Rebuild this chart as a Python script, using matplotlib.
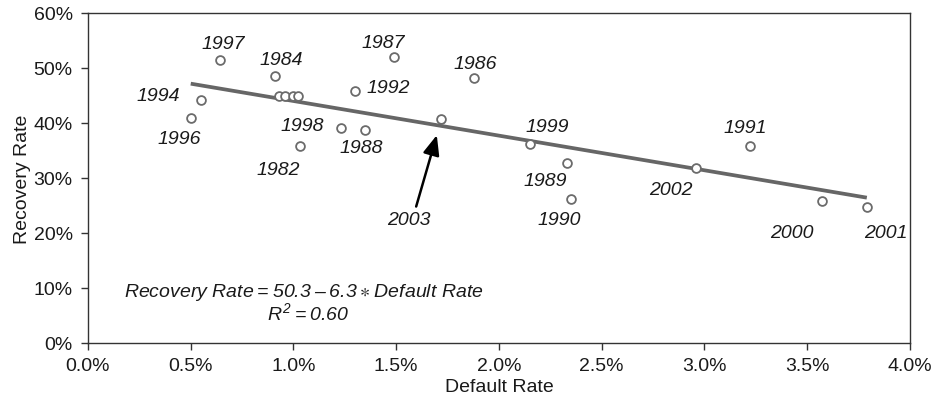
import matplotlib
matplotlib.use("Agg")
import matplotlib.pyplot as plt
import numpy as np
from matplotlib.ticker import PercentFormatter, MultipleLocator

# default rate (%) and recovery rate (%) by year
years = ['1982', '1983', '1984', '1985', '1986', '1987', '1988', '1989', '1990', '1991', '1992',
         '1993', '1994', '1995', '1996', '1997', '1998', '1999', '2000', '2001', '2002', '2003']
default_rate = [1.03, 0.93, 0.91, 0.96, 1.88, 1.49, 1.35, 2.33, 2.35, 3.22, 1.30,
                1.00, 0.55, 1.02, 0.50, 0.64, 1.23, 2.15, 3.57, 3.79, 2.96, 1.72]
recovery_rate = [35.8, 44.9, 48.6, 44.9, 48.1, 52.0, 38.8, 32.7, 26.2, 35.8, 45.8,
                 44.9, 44.2, 44.9, 40.9, 51.5, 39.1, 36.2, 25.9, 24.7, 31.9, 40.7]

# regression reported on the chart
intercept = 50.3
slope = -6.3
r_squared = 0.60

# label offsets in pixels (dx, dy) from each point; years not listed stay unlabelled
label_offsets = {
    '1982': (-21, -23), '1984': (6, 16), '1986': (1, 15), '1987': (-11, 14),
    '1988': (-4, -18), '1989': (-22, -17), '1990': (-12, -21), '1991': (-4, 19),
    '1992': (33, 4), '1994': (-43, 4), '1996': (-11, -20), '1997': (4, 16),
    '1998': (-38, 2), '1999': (17, 17), '2000': (-30, -32), '2001': (19, -25),
    '2002': (-25, -22),
}

plt.rcParams['font.family'] = ['Liberation Sans', 'DejaVu Sans']
plt.rcParams['font.size'] = 14
plt.rcParams['mathtext.fontset'] = 'custom'
plt.rcParams['mathtext.rm'] = 'Liberation Sans:italic'
plt.rcParams['mathtext.it'] = 'Liberation Sans:italic'
plt.rcParams['mathtext.fallback'] = 'stixsans'

fig = plt.figure(figsize=(9.39, 4.02), dpi=100)
ax = fig.add_axes([0.0937, 0.1443, 0.8754, 0.8209])

text_color = '#1a1a1a'
mark_color = '#6b6b6b'

# trend line over the data range
xs = np.array([min(default_rate), max(default_rate)])
ax.plot(xs, intercept + slope * xs, color='#666666', linewidth=2.7, zorder=2,
        solid_capstyle='butt')

ax.scatter(default_rate, recovery_rate, s=40, facecolors='white',
           edgecolors=mark_color, linewidths=1.3, zorder=3)

for yr, x, y in zip(years, default_rate, recovery_rate):
    if yr in label_offsets:
        ax.annotate(yr, (x, y), xytext=label_offsets[yr], textcoords='offset pixels',
                    ha='center', va='center', style='italic', fontsize=14,
                    color=text_color)

# 2003 gets an arrow instead of a plain label
i03 = years.index('2003')
ax.annotate('2003', (default_rate[i03], recovery_rate[i03]), xytext=(-33, -100),
            textcoords='offset pixels', ha='center', va='center', style='italic',
            fontsize=14, color=text_color,
            arrowprops=dict(arrowstyle='-|>,head_length=0.6,head_width=0.25',
                            color='black', lw=1.8, mutation_scale=20,
                            shrinkA=1, shrinkB=12, relpos=(0.65, 1.0)))

eq = ('Recovery Rate\u2009=\u200950.3\u2009\u2013\u20096.3\u2009'
      r'$\ast$' '\u2009Default Rate')
ax.text(1.05, 9.4, eq, ha='center', va='center', style='italic', fontsize=14,
        color=text_color)
ax.text(1.07, 5.6, r'$R^2$' '\u2009=\u2009%.2f' % r_squared, ha='center', va='center',
        style='italic', fontsize=14, color=text_color)

ax.set_xlim(0, 4.0)
ax.set_ylim(0, 60)
ax.xaxis.set_major_locator(MultipleLocator(0.5))
ax.yaxis.set_major_locator(MultipleLocator(10))
ax.xaxis.set_major_formatter(PercentFormatter(xmax=100, decimals=1))
ax.yaxis.set_major_formatter(PercentFormatter(xmax=100, decimals=0))

for sp in ax.spines.values():
    sp.set_color('#333333')
    sp.set_linewidth(1.0)
ax.tick_params(direction='out', length=5, width=1.0, colors='#333333',
               labelcolor=text_color, labelsize=14)
ax.tick_params(axis='x', pad=5)
ax.tick_params(axis='y', pad=6)

ax.set_xlabel('Default Rate', fontsize=14, color=text_color, labelpad=3)
ax.set_ylabel('Recovery Rate', fontsize=14, color=text_color, labelpad=2)

fig.savefig('out.png', dpi=100)
